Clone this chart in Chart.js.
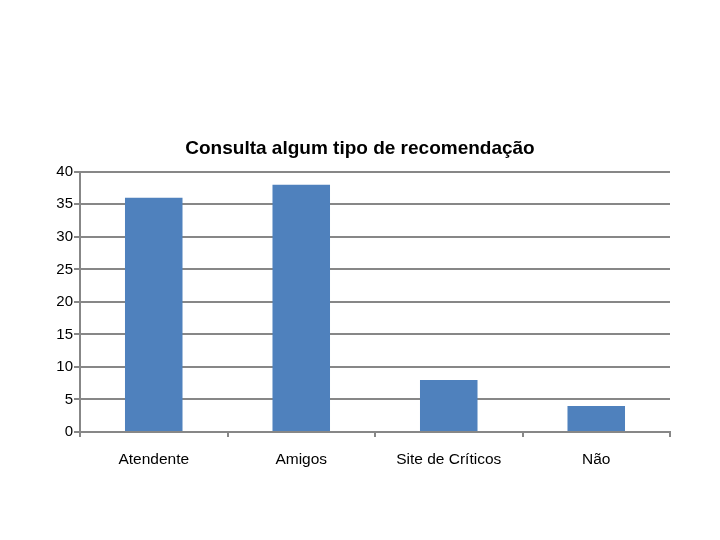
<!DOCTYPE html>
<html>
<head>
<meta charset="utf-8">
<script src="https://cdn.jsdelivr.net/npm/chart.js@4"></script>
<style>
  html, body { margin: 0; padding: 0; background: #fff; }
  #wrap { width: 720px; height: 540px; }
</style>
</head>
<body>
<div id="wrap"><canvas id="recChart"></canvas></div>
<script>
var categories = ["Atendente", "Amigos", "Site de Críticos", "Não"];
var values = [36, 38, 8, 4];
var yTicks = [0, 5, 10, 15, 20, 25, 30, 35, 40];

var ctx = document.getElementById("recChart");
var gridGray = '#878787';

var recChart = new Chart(ctx, {
  type: 'bar',
  data: {
    labels: categories,
    datasets: [{
      label: 'Consulta algum tipo de recomendação',
      backgroundColor: '#4F81BD',
      borderWidth: 0,
      barPercentage: 0.39,
      categoryPercentage: 1,
      data: values
    }]
  },
  options: {
    responsive: true,
    maintainAspectRatio: false,
    animation: false,
    layout: {
      padding: { left: 50, right: 50, top: 129, bottom: 68 }
    },
    plugins: {
      legend: { display: false },
      tooltip: { enabled: false },
      title: {
        display: true,
        text: 'Consulta algum tipo de recomendação',
        color: '#000',
        font: { family: 'Liberation Sans', size: 19, weight: 'bold', lineHeight: 1.2 },
        padding: { top: 8, bottom: 12 }
      }
    },
    scales: {
      x: {
        grid: {
          offset: true,
          drawOnChartArea: false,
          drawTicks: true,
          tickLength: 5,
          color: gridGray,
          lineWidth: 2
        },
        border: { color: gridGray, width: 2 },
        ticks: {
          color: '#000',
          padding: 13,
          font: { family: 'Liberation Sans', size: 15.5 }
        },
        afterFit: function (scale) { scale.height = 40; }
      },
      y: {
        min: 0,
        max: 40,
        afterBuildTicks: function (scale) {
          scale.ticks = yTicks.map(function (v) { return { value: v }; });
        },
        grid: {
          color: gridGray,
          lineWidth: 2,
          tickLength: 6
        },
        border: { color: gridGray, width: 2 },
        ticks: {
          color: '#000',
          padding: 1,
          font: { family: 'Liberation Sans', size: 15 }
        },
        afterFit: function (scale) { scale.width = 30; }
      }
    }
  }
});
</script>
</body>
</html>
